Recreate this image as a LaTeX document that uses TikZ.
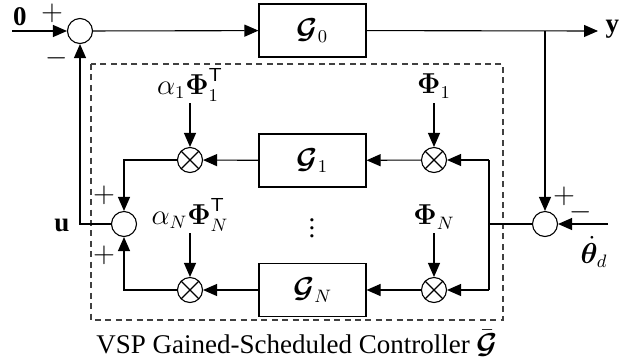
\documentclass[tikz,border=0pt]{standalone}
\usepackage{amsmath}
\usepackage{bm}
\usepackage{fontspec}
\setmainfont{Liberation Serif}
\usetikzlibrary{arrows.meta}
\begin{document}
\begin{tikzpicture}[x=0.5pt,y=-0.5pt,line width=0.55pt,
  every node/.style={font=\fontsize{13.5}{16}\selectfont},
  blk/.style={draw, minimum width=53.5pt, minimum height=26.5pt, inner sep=0pt},
  sumc/.style={draw, circle, minimum size=12.5pt, inner sep=0pt},
  mul/.style={sumc, path picture={\draw (path picture bounding box.north west) -- (path picture bounding box.south east) (path picture bounding box.north east) -- (path picture bounding box.south west);}},
  arr/.style={-{Triangle[length=7pt,width=6pt]}},
  lbl/.style={inner sep=0.5pt}]
\useasboundingbox (0,0) rectangle (636,360);
% dashed controller box
\draw[dash pattern=on 3pt off 2.2pt, black!75] (91,64) rectangle (503,320);
% nodes
\coordinate (in0) at (12,31);
\node[sumc] (s0) at (80,31) {};
\node[blk] (G0) at (312.5,30.5) {$\bm{\mathcal{G}}_0$};
\coordinate (br) at (545,31);
\coordinate (yend) at (598,31);
\node[lbl,anchor=west] (ylab) at (604,29) {$\mathbf{y}$};
\node[sumc] (sR) at (545,224) {};
\coordinate (thin) at (608,224);
\coordinate (fp) at (489,224);
\coordinate (fpt) at (489,160);
\coordinate (fpb) at (489,290);
\node[mul] (mR1) at (434,160) {};
\node[mul] (mRN) at (434,290) {};
\node[blk] (G1) at (312.5,160.5) {$\bm{\mathcal{G}}_1$};
\node[blk] (GN) at (312.5,290) {$\bm{\mathcal{G}}_N$};
\node[mul] (mL1) at (190,160) {};
\node[mul] (mLN) at (190,290) {};
\node[sumc] (sL) at (124,224) {};
\coordinate (lt) at (124,160);
\coordinate (lb) at (124,290);
\coordinate (ul) at (80,224);
% labels
\node[lbl] (a1) at (190,85) {$\alpha_1\bm{\Phi}_1^{\mathsf{T}}$};
\node[lbl] (p1) at (434,86) {$\bm{\Phi}_1$};
\node[lbl] (aN) at (190,215) {$\alpha_N\bm{\Phi}_N^{\mathsf{T}}$};
\node[lbl] (pN) at (434,217) {$\bm{\Phi}_N$};
\coordinate (a1e) at (190,103);
\coordinate (p1e) at (434,103);
\coordinate (aNe) at (190,233);
\coordinate (pNe) at (434,233);
\node[lbl] (zero) at (20,17) {$\mathbf{0}$};
\node[lbl] (pl0) at (52,13) {$+$};
\node[lbl] (mi0) at (57,58) {$-$};
\node[lbl] (plL1) at (104,195) {$+$};
\node[lbl] (plL2) at (104,255) {$+$};
\node[lbl] (plR) at (564,196) {$+$};
\node[lbl] (miR) at (581,212) {$-$};
\node[lbl] (ulab) at (62,225) {$\mathbf{u}$};
\node[lbl] (thlab) at (594,252) {$\dot{\bm{\theta}}_d$};
\node[lbl] (vd) at (312,222) {$\vdots$};
\node[lbl] (cap) at (297,343) {VSP Gained-Scheduled Controller $\bar{\bm{\mathcal{G}}}$};
% connectors
\draw[arr] (in0) -- (s0);
\draw[arr] (s0) -- (G0);
\draw[arr] (G0) -- (yend);
\draw[arr] (br) -- (sR);
\draw[arr] (thin) -- (sR);
\draw (sR) -- (fp);
\draw[arr] (fpt) -- (mR1);
\draw[arr] (fpb) -- (mRN);
\draw (fpt) -- (fpb);
\draw[arr] (mR1) -- (G1);
\draw[arr] (mRN) -- (GN);
\draw[arr] (G1) -- (mL1);
\draw[arr] (GN) -- (mLN);
\draw[arr] (mL1) -- (lt) -- (sL);
\draw[arr] (mLN) -- (lb) -- (sL);
\draw[arr] (sL) -- (ul) -- (s0);
\draw[arr] (a1e) -- (mL1);
\draw[arr] (p1e) -- (mR1);
\draw[arr] (aNe) -- (mLN);
\draw[arr] (pNe) -- (mRN);
\end{tikzpicture}
\end{document}
